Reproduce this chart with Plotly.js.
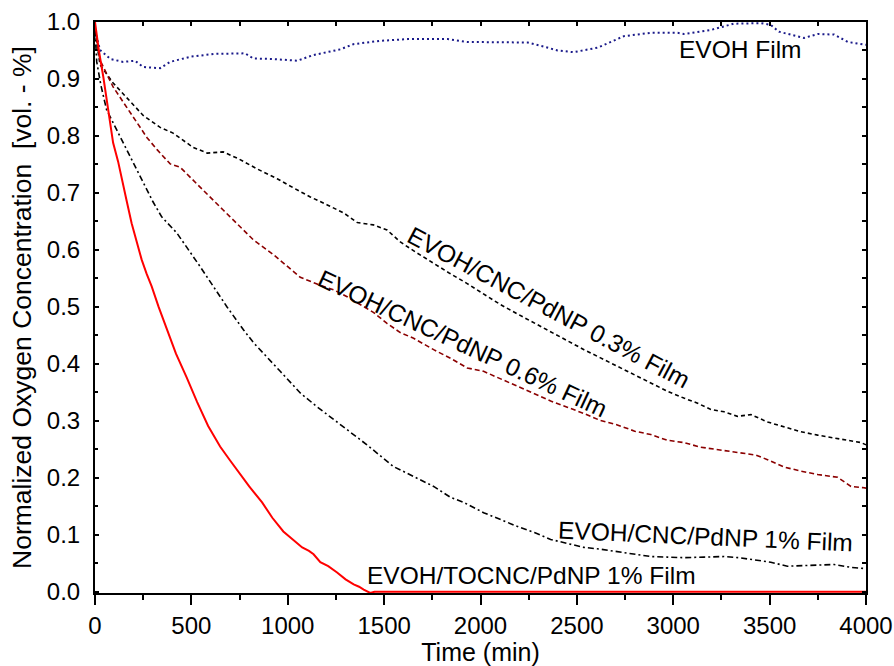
<!DOCTYPE html>
<html>
<head>
<meta charset="utf-8">
<script src="https://cdn.plot.ly/plotly-3.0.1.min.js"></script>
<style>html,body{margin:0;padding:0;background:#fff;}#chart{width:894px;height:666px;}</style>
</head>
<body>
<div id="chart"></div>
<script>
// ---- Data (time in min, normalized O2 concentration) ----
const evohT = [0, 26, 80, 146, 208, 250, 338, 390, 494, 615, 779, 821, 925, 1049, 1133, 1273, 1340, 1481, 1621, 1829, 1932, 2016, 2244, 2327, 2400, 2483, 2608, 2743, 2883, 3023, 3055, 3195, 3314, 3455, 3506, 3548, 3678, 3751, 3834, 3906, 3974, 4000];
const evohV = [0.985, 0.951, 0.935, 0.930, 0.932, 0.921, 0.919, 0.930, 0.939, 0.944, 0.945, 0.936, 0.935, 0.932, 0.942, 0.952, 0.961, 0.967, 0.970, 0.970, 0.965, 0.965, 0.964, 0.957, 0.950, 0.947, 0.955, 0.975, 0.981, 0.981, 0.979, 0.986, 0.997, 0.998, 0.995, 0.983, 0.972, 0.979, 0.978, 0.965, 0.961, 0.960];

const cnc03T = [0, 26, 94, 166, 250, 338, 405, 509, 582, 665, 745, 842, 945, 1029, 1117, 1205, 1290, 1361, 1444, 1515, 1584, 1660, 1757, 1840, 1931, 2020, 2104, 2190, 2277, 2364, 2450, 2537, 2620, 2710, 2800, 2883, 2970, 3055, 3120, 3195, 3264, 3333, 3403, 3490, 3576, 3662, 3749, 3835, 3922, 3974, 4000];
const cnc03V = [0.985, 0.925, 0.893, 0.866, 0.836, 0.815, 0.805, 0.780, 0.770, 0.772, 0.760, 0.742, 0.725, 0.709, 0.693, 0.679, 0.665, 0.648, 0.644, 0.635, 0.614, 0.597, 0.576, 0.559, 0.541, 0.522, 0.504, 0.488, 0.472, 0.457, 0.440, 0.425, 0.411, 0.396, 0.381, 0.367, 0.352, 0.340, 0.332, 0.320, 0.316, 0.308, 0.311, 0.298, 0.289, 0.281, 0.275, 0.270, 0.266, 0.262, 0.258];

const cnc06T = [0, 26, 94, 146, 198, 270, 322, 390, 442, 509, 600, 665, 701, 760, 821, 925, 1000, 1065, 1169, 1238, 1308, 1380, 1446, 1515, 1584, 1653, 1757, 1844, 1931, 2016, 2104, 2190, 2277, 2364, 2450, 2537, 2620, 2710, 2800, 2883, 2970, 3055, 3140, 3229, 3300, 3367, 3430, 3489, 3576, 3660, 3749, 3853, 3922, 3982, 4000];
const cnc06V = [0.985, 0.933, 0.886, 0.860, 0.834, 0.797, 0.776, 0.751, 0.745, 0.723, 0.693, 0.670, 0.658, 0.638, 0.618, 0.592, 0.570, 0.552, 0.538, 0.530, 0.518, 0.503, 0.490, 0.471, 0.455, 0.445, 0.425, 0.410, 0.393, 0.387, 0.374, 0.361, 0.349, 0.335, 0.324, 0.313, 0.301, 0.293, 0.282, 0.276, 0.266, 0.262, 0.254, 0.250, 0.247, 0.244, 0.240, 0.232, 0.219, 0.212, 0.206, 0.201, 0.185, 0.183, 0.182];

const cnc1T = [0, 9, 30, 60, 130, 198, 250, 300, 346, 424, 545, 685, 770, 823, 961, 1065, 1151, 1273, 1411, 1548, 1680, 1757, 1844, 1913, 2016, 2100, 2190, 2280, 2364, 2450, 2537, 2620, 2710, 2800, 2883, 2970, 3055, 3160, 3264, 3340, 3403, 3506, 3592, 3679, 3760, 3835, 3922, 3990];
const cnc1V = [0.985, 0.930, 0.890, 0.846, 0.799, 0.753, 0.716, 0.685, 0.658, 0.630, 0.571, 0.500, 0.460, 0.437, 0.387, 0.349, 0.325, 0.293, 0.258, 0.220, 0.198, 0.185, 0.166, 0.157, 0.139, 0.127, 0.115, 0.104, 0.092, 0.085, 0.078, 0.075, 0.071, 0.066, 0.062, 0.061, 0.060, 0.061, 0.062, 0.060, 0.057, 0.052, 0.045, 0.046, 0.047, 0.048, 0.043, 0.041];

const tocncT = [0, 20, 43, 70, 94, 120, 139, 165, 190, 215, 242, 268, 294, 330, 372, 420, 476, 530, 587, 649, 700, 743, 800, 867, 920, 977, 1030, 1075, 1110, 1134, 1169, 1210, 1256, 1300, 1342, 1370, 1394, 1428, 1450, 2000, 2500, 3000, 3500, 4000];
const tocncV = [1.000, 0.950, 0.904, 0.845, 0.788, 0.755, 0.723, 0.685, 0.647, 0.614, 0.583, 0.558, 0.536, 0.500, 0.460, 0.418, 0.376, 0.333, 0.291, 0.255, 0.231, 0.211, 0.185, 0.157, 0.130, 0.106, 0.090, 0.078, 0.072, 0.066, 0.052, 0.045, 0.034, 0.022, 0.013, 0.009, 0.004, -0.002, 0, 0, 0, 0, 0, 0];

const labels = ["EVOH Film", "EVOH/CNC/PdNP 0.3% Film", "EVOH/CNC/PdNP 0.6% Film", "EVOH/CNC/PdNP 1% Film", "EVOH/TOCNC/PdNP 1% Film"];
const xTitle = "Time (min)";
const yTitle = "Normalized Oxygen Concentration \u00a0[vol. - %]";

const FONT = 'Arial, "Liberation Sans", Helvetica, sans-serif';

const traces = [
  {x: evohT, y: evohV, mode: 'lines', line: {color: '#1a1a8a', width: 2, dash: '2px,3px'}, name: labels[0]},
  {x: cnc03T, y: cnc03V, mode: 'lines', line: {color: '#000000', width: 1.6, dash: '4px,3px'}, name: labels[1]},
  {x: cnc06T, y: cnc06V, mode: 'lines', line: {color: '#8b0000', width: 1.6, dash: '5px,3px'}, name: labels[2]},
  {x: cnc1T, y: cnc1V, mode: 'lines', line: {color: '#000000', width: 1.6, dash: '6px,3px,2px,3px'}, name: labels[3]},
  {x: tocncT, y: tocncV, mode: 'lines', line: {color: '#ff0000', width: 2}, name: labels[4]},
  {x: [], y: [], xaxis: 'x2', yaxis: 'y2', mode: 'lines', hoverinfo: 'skip', showlegend: false}
];

const ann = (text, x, y, angle) => ({text, x, y, xref: 'x', yref: 'y', showarrow: false, textangle: angle,
  xanchor: 'center', yanchor: 'middle', font: {family: FONT, size: 24.5, color: '#000'}});

const yRange = [-0.002, 1.0];

const layout = {
  width: 894, height: 666,
  margin: {l: 95, r: 28, t: 22, b: 73, pad: 0},
  paper_bgcolor: '#ffffff', plot_bgcolor: '#ffffff',
  showlegend: false,
  font: {family: FONT, size: 24, color: '#000'},
  xaxis: {
    range: [0, 4000], tick0: 0, dtick: 500, ticks: 'outside', ticklen: 10, tickwidth: 2, tickcolor: '#000',
    showline: true, linewidth: 2, linecolor: '#000', mirror: true, showgrid: false, zeroline: false,
    minor: {dtick: 250, ticks: 'outside', ticklen: 5, tickwidth: 2, tickcolor: '#000', showgrid: false},
    title: {text: xTitle, font: {size: 25}, standoff: 9},
    layer: 'below traces', automargin: false
  },
  yaxis: {
    range: yRange, tick0: 0, dtick: 0.1, tickformat: '.1f', ticks: 'inside', ticklen: 4, tickwidth: 2, tickcolor: '#000',
    showline: true, linewidth: 2, linecolor: '#000', mirror: true, showgrid: false, zeroline: false,
    minor: {dtick: 0.05, ticks: 'inside', ticklen: 3, tickwidth: 2, tickcolor: '#000', showgrid: false},
    ticklabelstandoff: 8,
    title: {text: yTitle, font: {size: 26.5}, standoff: 8},
    layer: 'below traces', automargin: false
  },
  xaxis2: {overlaying: 'x', side: 'top', range: [0, 4000], tick0: 0, dtick: 250, ticks: 'inside', ticklen: 4, tickwidth: 2,
    tickcolor: '#000', showticklabels: false, showgrid: false, zeroline: false, showline: false},
  yaxis2: {overlaying: 'y', side: 'right', range: yRange, tick0: 0, dtick: 0.05, ticks: 'inside', ticklen: 4, tickwidth: 2,
    tickcolor: '#000', showticklabels: false, showgrid: false, zeroline: false, showline: false},
  annotations: [
    ann(labels[0], 3351, 0.951, 0),
    ann(labels[1], 2353, 0.499, 28),
    ann(labels[2], 1906, 0.436, 25),
    ann(labels[3], 3169, 0.097, 2.5),
    ann(labels[4], 2265, 0.029, 0)
  ]
};

Plotly.newPlot('chart', traces, layout, {displayModeBar: false, staticPlot: true});
</script>
</body>
</html>
